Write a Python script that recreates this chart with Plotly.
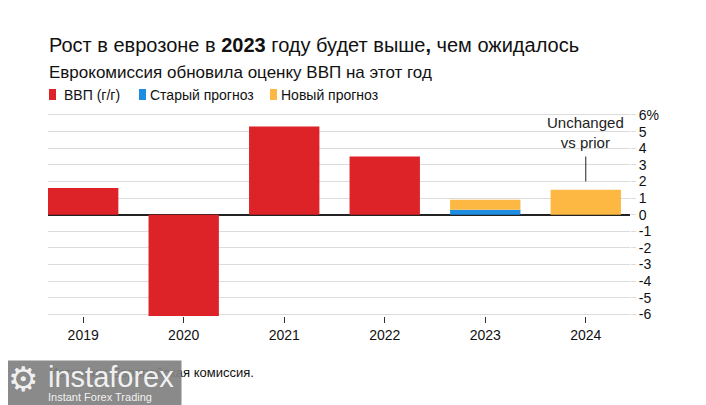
import plotly.graph_objects as go

# ==============================
# DATA
# ==============================

years = ["2019", "2020", "2021", "2022", "2023", "2024"]

gdp_actual = [1.6, -6.1, 5.3, 3.5, None, None]
old_forecast = [None, None, None, None, 0.3, None]
new_forecast = [None, None, None, None, 0.9, 1.5]

y_ticks = [-6, -5, -4, -3, -2, -1, 0, 1, 2, 3, 4, 5, 6]
y_tick_text = ["-6", "-5", "-4", "-3", "-2", "-1", "0", "1", "2", "3", "4", "5", "6%"]

legend_names = ["ВВП (г/г)", "Старый прогноз", "Новый прогноз"]

RED = "#dd2228"
BLUE = "#1c8de0"
ORANGE = "#fcb843"
TEXT = "#111111"
FONT = "Liberation Sans, Arial, sans-serif"

# page body has an 8px margin, plot area sits at screen x 48..630, y 110..316
PLOT_L, PLOT_R, PLOT_T, PLOT_B = 48, 630, 110, 316


def px(x):
    return (x - PLOT_L) / (PLOT_R - PLOT_L)


def py(y):
    return (PLOT_B - y) / (PLOT_B - PLOT_T)


# new forecast drawn on top of the old one where both exist
new_segment = []
for o, n in zip(old_forecast, new_forecast):
    if n is None:
        new_segment.append(None)
    else:
        new_segment.append(n - (o or 0))

# ==============================
# BUILD GRAPH
# ==============================

fig = go.Figure()

colors = [RED, BLUE, ORANGE]
series = [gdp_actual, old_forecast, new_segment]

for name, vals, col in zip(legend_names, series, colors):
    fig.add_trace(go.Bar(x=years, y=vals, name=name, showlegend=False,
                         marker=dict(color=col, line=dict(width=0))))

# annotation line for 2024 (category index on the x axis)
idx_2024 = years.index("2024")
fig.add_shape(type="line", xref="x", yref="y", x0=idx_2024, x1=idx_2024, y0=2.0, y1=3.5,
              line=dict(color="#222222", width=1))
fig.add_annotation(x=idx_2024, y=4.95, xref="x", yref="y", text="Unchanged<br>vs prior",
                   showarrow=False, font=dict(size=15, color="#222222", family=FONT))

# titles
fig.add_annotation(xref="paper", yref="paper", x=px(47), y=py(45), xanchor="left", yanchor="middle",
                   text="Рост в еврозоне в <b>2023</b> году будет выше<b>,</b> чем ожидалось",
                   showarrow=False, font=dict(size=20, color=TEXT, family=FONT))
fig.add_annotation(xref="paper", yref="paper", x=px(47), y=py(72), xanchor="left", yanchor="middle",
                   text="Еврокомиссия обновила оценку ВВП на этот год",
                   showarrow=False, font=dict(size=17, color=TEXT, family=FONT))

# legend drawn by hand
legend_sq = [49, 139, 270]
legend_tx = [62, 148, 279]
for name, col, sx, tx in zip(legend_names, colors, legend_sq, legend_tx):
    fig.add_shape(type="rect", xref="paper", yref="paper", x0=px(sx), x1=px(sx + 7),
                  y0=py(100), y1=py(89), fillcolor=col, line=dict(width=0))
    fig.add_annotation(xref="paper", yref="paper", x=px(tx), y=py(95), xanchor="left", yanchor="middle",
                       text=name, showarrow=False, font=dict(size=14, color=TEXT, family=FONT))

# source
fig.add_annotation(xref="paper", yref="paper", x=px(47), y=py(372), xanchor="left", yanchor="middle",
                   text="Источник: Европейская комиссия.",
                   showarrow=False, font=dict(size=13, color=TEXT, family=FONT))

# watermark box
fig.add_annotation(xref="paper", yref="paper", x=px(0), y=py(360), xanchor="left", yanchor="top",
                   text=" ", showarrow=False, width=180, height=45, borderpad=0,
                   bgcolor="rgba(128,128,128,0.92)")
fig.add_annotation(xref="paper", yref="paper", x=px(6), y=py(379), xanchor="left", yanchor="middle",
                   text="⚙", showarrow=False,
                   font=dict(size=34, color="rgba(255,255,255,0.9)", family="DejaVu Sans"))
fig.add_annotation(xref="paper", yref="paper", x=px(46), y=py(377), xanchor="left", yanchor="middle",
                   text="instaforex", showarrow=False,
                   font=dict(size=29, color="rgba(255,255,255,0.9)", family=FONT))
fig.add_annotation(xref="paper", yref="paper", x=px(46), y=py(397), xanchor="left", yanchor="middle",
                   text="Instant Forex Trading", showarrow=False,
                   font=dict(size=11, color="rgba(255,255,255,0.9)", family=FONT))

# ==============================
# STYLE
# ==============================

fig.update_layout(
    width=698,
    height=397,
    barmode="relative",
    bargap=0.3,
    plot_bgcolor="white",
    paper_bgcolor="white",
    font=dict(family=FONT, size=14, color=TEXT),
    margin=dict(l=40, r=76, t=102, b=89),
    showlegend=False,
    xaxis=dict(
        type="category",
        range=[-0.35, 5.44],
        ticks="outside",
        ticklen=6,
        tickcolor="#333333",
        showgrid=False,
        showline=False,
        tickfont=dict(size=14, color=TEXT),
    ),
    yaxis=dict(
        side="right",
        range=[-6.1, 6.3],
        tickvals=y_ticks,
        ticktext=y_tick_text,
        showgrid=True,
        gridcolor="#dcdcdc",
        gridwidth=1,
        ticks="outside",
        ticklen=5,
        tickcolor="#dcdcdc",
        zeroline=True,
        zerolinecolor="#222222",
        zerolinewidth=1.5,
        tickfont=dict(size=14, color=TEXT),
    ),
)

fig.write_html("out.html")
